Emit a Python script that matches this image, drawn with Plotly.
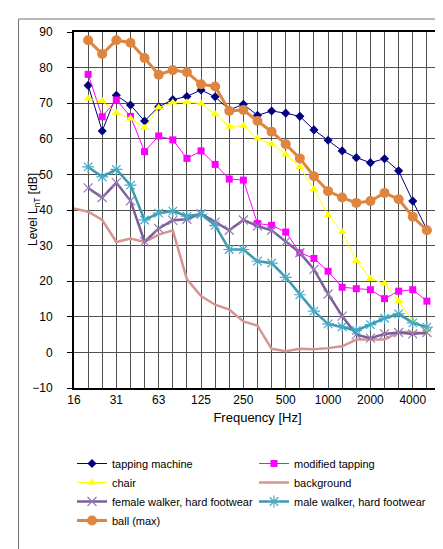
import plotly.graph_objects as go

bands = ["16", "20", "25", "31.5", "40", "50", "63", "80", "100", "125", "160", "200",
         "250", "315", "400", "500", "630", "800", "1000", "1250", "1600", "2000",
         "2500", "3150", "4000", "5000", "6300"]
tick_labels = {"16": "16", "31.5": "31", "63": "63", "125": "125", "250": "250",
               "500": "500", "1000": "1000", "2000": "2000", "4000": "4000"}

freq = bands[1:26]          # 20 Hz ... 5000 Hz
freq_bg = bands[0:26]       # 16 Hz ... 5000 Hz

tapping_machine = [75.0, 62.2, 72.2, 69.5, 65.0, 69.0, 71.0, 71.9, 73.7, 71.8, 68.1, 69.7,
                   66.6, 67.8, 67.2, 66.3, 62.5, 59.6, 56.6, 54.7, 53.3, 54.4, 51.0, 42.5, 34.5]
modified_tapping = [78.1, 66.2, 70.9, 66.3, 56.4, 60.8, 59.7, 54.5, 56.6, 52.8, 48.7, 48.4,
                    36.2, 35.7, 33.8, 28.0, 26.4, 22.8, 18.3, 17.9, 17.6, 15.1, 17.2, 17.6, 14.4]
chair = [71.3, 70.6, 67.3, 65.7, 63.0, 68.8, 70.2, 70.3, 69.9, 66.9, 63.4, 63.7,
         60.1, 58.5, 55.6, 52.1, 45.8, 38.5, 33.8, 25.7, 20.7, 19.3, 14.4, 8.8, 6.2]
background = [40.4, 39.5, 37.2, 31.0, 32.0, 31.0, 33.1, 34.3, 20.5, 15.8, 13.4, 12.0, 8.7,
              7.5, 1.0, 0.3, 1.0, 0.9, 1.2, 1.7, 3.6, 3.6, 3.6, 5.7, 5.7, 5.2]
female_walker = [46.2, 43.5, 47.7, 42.6, 31.1, 34.8, 37.1, 37.4, 39.0, 36.6, 34.3, 37.2,
                 35.5, 34.3, 31.1, 28.0, 23.3, 16.4, 10.2, 5.0, 4.0, 5.2, 5.6, 5.2, 5.6]
male_walker = [52.1, 49.3, 51.4, 47.0, 37.2, 39.1, 39.7, 38.3, 38.8, 35.7, 28.9, 28.9,
               25.6, 25.1, 21.1, 16.2, 11.6, 8.0, 7.2, 6.2, 7.8, 9.6, 10.8, 8.3, 7.1]
ball_max = [87.7, 83.8, 87.7, 87.0, 82.7, 78.0, 79.3, 78.7, 75.3, 74.7, 67.8, 68.1,
            65.0, 62.0, 58.5, 54.5, 49.5, 45.3, 43.5, 42.0, 42.5, 44.8, 43.0, 38.1, 34.3]

y_ticks = list(range(-10, 91, 10))

FONT = "Liberation Sans, Arial, sans-serif"

fig = go.Figure()

fig.add_trace(go.Scatter(
    x=freq, y=tapping_machine, name="tapping machine", mode="lines+markers",
    line=dict(color="#000080", width=1), legend="legend",
    marker=dict(symbol="diamond", size=7, color="#000080")))
fig.add_trace(go.Scatter(
    x=freq, y=modified_tapping, name="modified tapping", mode="lines+markers",
    line=dict(color="#FF00FF", width=1), legend="legend2",
    marker=dict(symbol="square", size=7, color="#FF00FF")))
fig.add_trace(go.Scatter(
    x=freq, y=chair, name="chair", mode="lines+markers",
    line=dict(color="#FFFF00", width=1), legend="legend",
    marker=dict(symbol="triangle-up", size=8, color="#FFFF00")))
fig.add_trace(go.Scatter(
    x=freq_bg, y=background, name="background", mode="lines",
    line=dict(color="#D4968E", width=2.5), legend="legend2"))
fig.add_trace(go.Scatter(
    x=freq, y=female_walker, name="female walker, hard footwear", mode="lines+markers",
    line=dict(color="#7B5E99", width=2.5), legend="legend",
    marker=dict(symbol="x-thin", size=9, color="#9A7DB8",
                line=dict(color="#9A7DB8", width=1.2))))
fig.add_trace(go.Scatter(
    x=freq, y=male_walker, name="male walker, hard footwear", mode="lines+markers",
    line=dict(color="#3A98B0", width=2.5), legend="legend2",
    marker=dict(symbol="asterisk", size=10, color="#4AAAC4",
                line=dict(color="#4AAAC4", width=1.2))))
fig.add_trace(go.Scatter(
    x=freq, y=ball_max, name="ball (max)", mode="lines+markers",
    line=dict(color="#DE8640", width=3), legend="legend",
    marker=dict(symbol="circle", size=10, color="#DE8640")))

legend_common = dict(orientation="v", xanchor="left", yanchor="top",
                     bgcolor="rgba(0,0,0,0)",
                     font=dict(family=FONT, size=11, color="black"),
                     itemwidth=30, itemsizing="trace", tracegroupgap=0)

fig.update_layout(
    width=443, height=549,
    margin=dict(l=66, r=10, t=24, b=169, autoexpand=False),
    paper_bgcolor="white", plot_bgcolor="white",
    font=dict(family=FONT, size=12, color="black"),
    showlegend=True,
    legend=dict(x=(64 - 66) / 367, y=(380 - 441) / 356, **legend_common),
    legend2=dict(x=(246 - 66) / 367, y=(380 - 441) / 356, **legend_common),
    xaxis=dict(
        type="category", categoryorder="array", categoryarray=bands,
        range=[0, 26],
        tickmode="array", tickvals=bands,
        ticktext=[tick_labels.get(b, "") for b in bands],
        ticks="", ticklabelstandoff=0,
        showgrid=True, gridcolor="#505050", gridwidth=1,
        showline=True, linecolor="black", linewidth=2, mirror=True,
        zeroline=False,
        tickfont=dict(family=FONT, size=12, color="black"),
        title=dict(text="Frequency [Hz]", font=dict(family=FONT, size=13, color="black"),
                   standoff=6),
    ),
    yaxis=dict(
        range=[-10, 90], tickmode="array", tickvals=y_ticks,
        ticks="outside", ticklen=5, tickcolor="black", tickwidth=1,
        ticklabelstandoff=12,
        showgrid=True, gridcolor="#505050", gridwidth=1,
        showline=True, linecolor="black", linewidth=2, mirror=True,
        zeroline=False,
        tickfont=dict(family=FONT, size=12, color="black"),
    ),
    annotations=[dict(
        text="Level L<sub>nT</sub> [dB]", textangle=-90, showarrow=False,
        xref="paper", yref="paper", x=(26 - 66) / 367, y=0.5,
        xanchor="center", yanchor="middle",
        font=dict(family=FONT, size=12, color="black"))],
)

# outer chart border (left and top edges visible in the crop)
fig.add_shape(type="line", xref="paper", yref="paper",
              x0=(10.5 - 66) / 367, x1=1.1, y0=(380 - 11) / 356, y1=(380 - 11) / 356,
              line=dict(color="#707070", width=1))
fig.add_shape(type="line", xref="paper", yref="paper",
              x0=(10.5 - 66) / 367, x1=(10.5 - 66) / 367, y0=(380 - 11) / 356, y1=-0.6,
              line=dict(color="#707070", width=1))

fig.write_html("out.html")
